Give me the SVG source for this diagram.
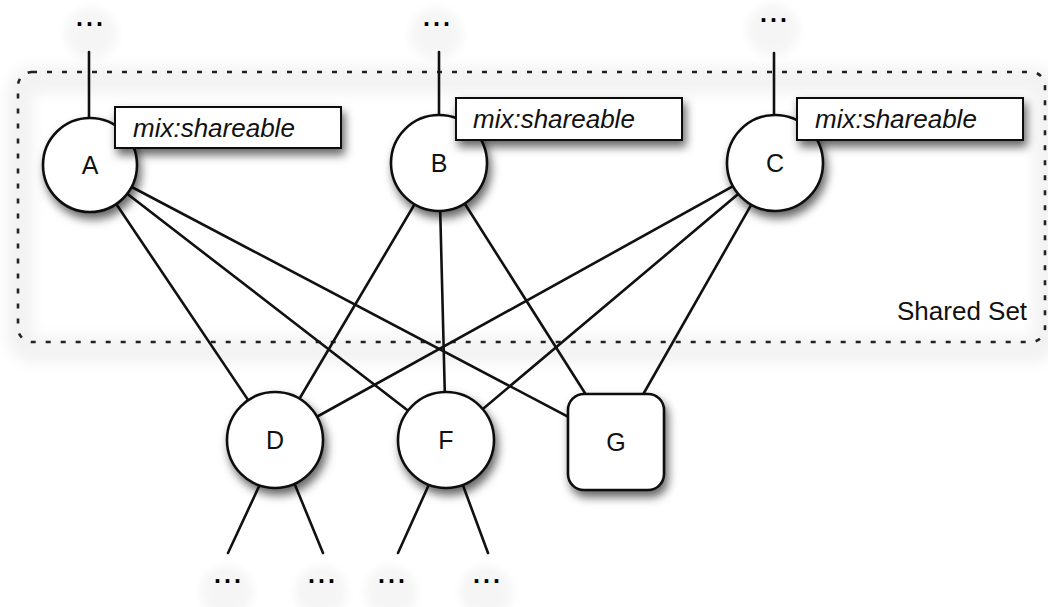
<svg xmlns="http://www.w3.org/2000/svg" width="1048" height="607" viewBox="0 0 1048 607">
  <defs>
    <filter id="shadow" x="-30%" y="-30%" width="170%" height="180%">
      <feDropShadow dx="3" dy="6" stdDeviation="5" flood-color="#000" flood-opacity="0.6"/>
    </filter>
    <filter id="soft" x="-10%" y="-10%" width="120%" height="130%">
      <feGaussianBlur stdDeviation="7"/>
    </filter>
    <filter id="halo" x="-50%" y="-50%" width="200%" height="200%">
      <feGaussianBlur stdDeviation="5"/>
    </filter>
    <style>
      .edge { stroke: #111; stroke-width: 2.6; fill: none; stroke-linecap: round; }
      .node { fill: #fff; stroke: #111; stroke-width: 2.6; filter: url(#shadow); }
      .lbl { font-family: "Liberation Sans", Arial, sans-serif; font-size: 25px; fill: #111; text-anchor: middle; }
      .tag { fill: #fff; stroke: #111; stroke-width: 2; filter: url(#shadow); }
      .tagtxt { font-family: "Liberation Sans", Arial, sans-serif; font-size: 26px; font-style: italic; fill: #111; }
      .dots { font-family: "Liberation Sans", Arial, sans-serif; font-size: 25px; font-weight: bold; letter-spacing: 3px; fill: #000; text-anchor: middle; }
      .ghost { fill: #f5f5f5; filter: url(#halo); }
    </style>
  </defs>
  <rect width="1048" height="607" fill="#fff"/>

  <!-- Shared set region -->
  <g id="shared-set">
    <rect x="20" y="80" width="1027" height="270" rx="14" fill="none" stroke="#000" stroke-opacity="0.05" stroke-width="26" filter="url(#soft)"/>
    <rect x="18" y="72" width="1027" height="270" rx="14" fill="none" stroke="#222" stroke-width="2.6" stroke-dasharray="5 10"/>
    <text x="897" y="320" font-family="'Liberation Sans', Arial, sans-serif" font-size="26" fill="#111">Shared Set</text>
  </g>

  <!-- faint placeholder halos -->
  <g id="ellipsis-halos">
    <circle class="ghost" cx="91" cy="34" r="26"/>
    <circle class="ghost" cx="436" cy="34" r="26"/>
    <circle class="ghost" cx="773" cy="30" r="26"/>
    <circle class="ghost" cx="227" cy="592" r="26"/>
    <circle class="ghost" cx="321" cy="592" r="26"/>
    <circle class="ghost" cx="391" cy="592" r="26"/>
    <circle class="ghost" cx="486" cy="592" r="26"/>
  </g>

  <!-- connectors -->
  <g id="connectors">
    <line class="edge" x1="89" y1="52" x2="89" y2="125"/>
    <line class="edge" x1="439" y1="52" x2="439" y2="120"/>
    <line class="edge" x1="774" y1="53" x2="774" y2="120"/>

    <line class="edge" x1="90" y1="165" x2="275" y2="440"/>
    <line class="edge" x1="90" y1="165" x2="446" y2="440"/>
    <line class="edge" x1="90" y1="165" x2="616" y2="442"/>
    <line class="edge" x1="439" y1="163" x2="275" y2="440"/>
    <line class="edge" x1="439" y1="163" x2="446" y2="440"/>
    <line class="edge" x1="439" y1="163" x2="616" y2="442"/>
    <line class="edge" x1="775" y1="163" x2="275" y2="440"/>
    <line class="edge" x1="775" y1="163" x2="446" y2="440"/>
    <line class="edge" x1="775" y1="163" x2="616" y2="442"/>

    <line class="edge" x1="262" y1="480" x2="228" y2="553"/>
    <line class="edge" x1="293" y1="480" x2="323" y2="553"/>
    <line class="edge" x1="431" y1="480" x2="398" y2="553"/>
    <line class="edge" x1="461" y1="480" x2="488" y2="553"/>
  </g>

  <!-- ellipsis placeholders -->
  <g id="more-a"><text class="dots" x="91" y="26">...</text></g>
  <g id="more-b"><text class="dots" x="438" y="26">...</text></g>
  <g id="more-c"><text class="dots" x="775" y="22">...</text></g>
  <g id="more-d1"><text class="dots" x="229" y="583">...</text></g>
  <g id="more-d2"><text class="dots" x="323" y="583">...</text></g>
  <g id="more-f1"><text class="dots" x="393" y="583">...</text></g>
  <g id="more-f2"><text class="dots" x="488" y="583">...</text></g>

  <!-- nodes -->
  <g id="node-a">
    <circle class="node" cx="90" cy="165" r="47"/>
    <text class="lbl" x="90" y="174">A</text>
  </g>
  <g id="node-b">
    <circle class="node" cx="439" cy="163" r="48"/>
    <text class="lbl" x="439" y="172">B</text>
  </g>
  <g id="node-c">
    <circle class="node" cx="775" cy="163" r="48"/>
    <text class="lbl" x="775" y="172">C</text>
  </g>
  <g id="node-d">
    <circle class="node" cx="275" cy="440" r="48"/>
    <text class="lbl" x="275" y="449">D</text>
  </g>
  <g id="node-f">
    <circle class="node" cx="446" cy="440" r="48"/>
    <text class="lbl" x="446" y="449">F</text>
  </g>
  <g id="node-g">
    <rect class="node" x="568" y="394" width="96" height="96" rx="16"/>
    <text class="lbl" x="616" y="451">G</text>
  </g>

  <!-- mixin tags -->
  <g id="tag-a">
    <rect class="tag" x="115" y="107" width="226" height="41"/>
    <text class="tagtxt" x="133" y="137">mix:shareable</text>
  </g>
  <g id="tag-b">
    <rect class="tag" x="456" y="98" width="226" height="42"/>
    <text class="tagtxt" x="473" y="128">mix:shareable</text>
  </g>
  <g id="tag-c">
    <rect class="tag" x="797" y="98" width="226" height="42"/>
    <text class="tagtxt" x="815" y="128">mix:shareable</text>
  </g>
</svg>
